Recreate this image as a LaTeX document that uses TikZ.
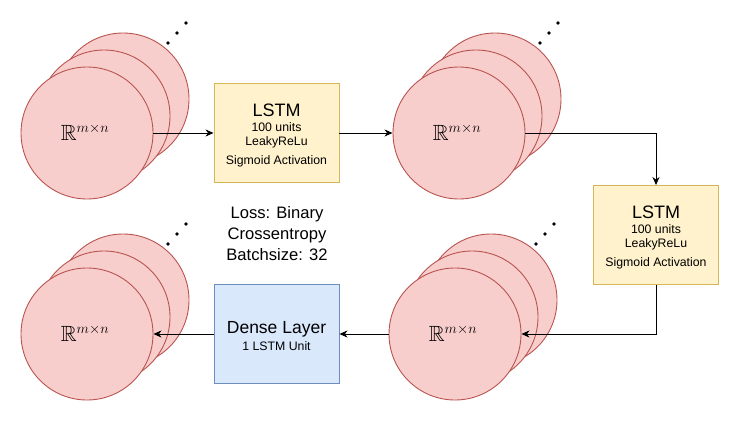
\documentclass[tikz,border=0pt]{standalone}
\usepackage{amssymb}
\usepackage{fontspec}
\setmainfont{Liberation Sans}
\usetikzlibrary{arrows.meta}
\definecolor{rfill}{HTML}{F8CECC}
\definecolor{rdraw}{HTML}{B85450}
\definecolor{yfill}{HTML}{FFF2CC}
\definecolor{ydraw}{HTML}{D6B656}
\definecolor{bfill}{HTML}{DAE8FC}
\definecolor{bdraw}{HTML}{6C8EBF}
\tikzset{
  rcirc/.style={circle, draw=rdraw, fill=rfill, line width=0.9pt, minimum size=132pt, inner sep=0pt},
  rlabel/.style={anchor=base, inner sep=0pt, font=\fontsize{22}{26}\selectfont},
  stackdot/.style={circle, fill=black, minimum size=3.8pt, inner sep=0pt},
  ybox/.style={draw=ydraw, fill=yfill, line width=0.9pt, minimum width=125pt, minimum height=99pt, inner sep=0pt},
  bbox/.style={draw=bdraw, fill=bfill, line width=0.9pt, minimum width=125pt, minimum height=99pt, inner sep=0pt},
  bigtxt/.style={anchor=base, inner sep=0pt, font=\fontsize{18}{21}\selectfont},
  midtxt/.style={anchor=base, inner sep=0pt, font=\fontsize{17.5}{20}\selectfont},
  losstxt/.style={anchor=base, inner sep=0pt, font=\fontsize{16.6}{20}\selectfont},
  smalltxt/.style={anchor=base, inner sep=0pt, font=\fontsize{12.3}{14}\selectfont},
  arr/.style={draw=black, line width=0.9pt, -{Stealth[length=8pt,width=7pt,inset=2.5pt]}},
}
\newcommand\rstack[3]{%
  \node[rcirc] (#1-back) at (#2+36,#3-34) {};
  \node[rcirc] (#1-mid) at (#2+17,#3-17) {};
  \node[rcirc] (#1) at (#2,#3) {};
  \node[rlabel] (#1-lab) at (#2-2,#3+7) {$\mathbb{R}^{m\times n}$};
  \node[stackdot] (#1-d1) at (#2+81,#3-90) {};
  \node[stackdot] (#1-d2) at (#2+90,#3-100) {};
  \node[stackdot] (#1-d3) at (#2+99,#3-110) {};
}
\newcommand\lstmtext[1]{%
  \node[bigtxt] (#1-t1) at ([yshift=17pt]#1.center) {LSTM};
  \node[smalltxt] (#1-t2) at ([yshift=2pt]#1.center) {100 units};
  \node[smalltxt] (#1-t3) at ([yshift=-12pt]#1.center) {LeakyReLu};
  \node[smalltxt] (#1-t4) at ([yshift=-31.3pt]#1.center) {Sigmoid Activation};
}
\begin{document}
\begin{tikzpicture}[x=1pt,y=-1pt]
\useasboundingbox (0,0) rectangle (735,423);
\rstack{c1}{87}{133}
\rstack{c2}{459}{133}
\rstack{c3}{455}{334}
\rstack{c4}{87}{334}
\node[ybox] (lstm1) at (276.5,133) {};
\lstmtext{lstm1}
\node[ybox] (lstm2) at (656,235) {};
\lstmtext{lstm2}
\node[bbox] (dense) at (276.5,334) {};
\node[midtxt] (dense-t1) at ([yshift=0.5pt]dense.center) {Dense Layer};
\node[smalltxt] (dense-t2) at ([yshift=-16pt]dense.center) {1 LSTM Unit};
\node[losstxt] (loss1) at (277,218.3) {Loss: Binary};
\node[losstxt] (loss2) at (277,239.3) {Crossentropy};
\node[losstxt] (loss3) at (277,260) {Batchsize: 32};
\draw[arr] (c1.east) -- (lstm1.west);
\draw[arr] (lstm1.east) -- (c2.west);
\draw[arr] (c2.east) -| (lstm2.north);
\draw[arr] (lstm2.south) |- (c3.east);
\draw[arr] (c3.west) -- (dense.east);
\draw[arr] (dense.west) -- (c4.east);
\end{tikzpicture}
\end{document}
